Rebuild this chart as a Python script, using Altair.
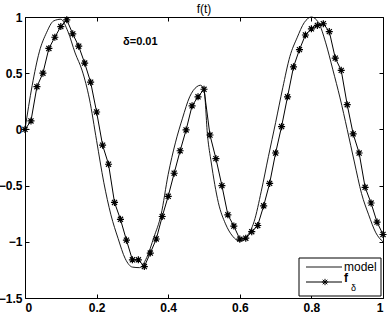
import altair as alt
import pandas as pd

# ---- data ----
model_t = [0.00, 0.02, 0.04, 0.06, 0.08, 0.10, 0.12, 0.14, 0.16, 0.18,
           0.20, 0.22, 0.24, 0.26, 0.28, 0.30, 0.32, 0.34, 0.36, 0.38,
           0.40, 0.42, 0.44, 0.46, 0.48, 0.49, 0.50, 0.51, 0.52, 0.54,
           0.56, 0.58, 0.60, 0.62, 0.64, 0.66, 0.68, 0.70, 0.72, 0.74,
           0.76, 0.78, 0.80, 0.82, 0.84, 0.86, 0.88, 0.90, 0.92, 0.94,
           0.96, 0.98, 1.00]
model_y = [0.00, 0.39, 0.69, 0.86, 0.965, 0.98, 0.87, 0.68, 0.52, 0.27,
           -0.10, -0.47, -0.76, -0.97, -1.15, -1.225, -1.23, -1.14, -0.96, -0.76,
           -0.40, -0.12, 0.10, 0.29, 0.38, 0.393, 0.355, -0.06, -0.29, -0.65,
           -0.84, -0.95, -0.995, -0.95, -0.82, -0.55, -0.24, 0.06, 0.37, 0.65,
           0.815, 0.95, 1.00, 0.95, 0.77, 0.53, 0.28, 0.00, -0.29, -0.57,
           -0.76, -0.92, -1.00]

fd_t = [i / 60 for i in range(61)]
fd_y = [0.00, 0.075, 0.38, 0.50, 0.72, 0.82, 0.915, 0.975, 0.85, 0.74,
        0.59, 0.42, 0.155, -0.14, -0.31, -0.65, -0.80, -0.985, -1.16, -1.16,
        -1.22, -1.10, -0.975, -0.775, -0.595, -0.39, -0.19, -0.005, 0.21, 0.29,
        0.357, -0.05, -0.26, -0.50, -0.76, -0.86, -0.976, -0.968, -0.91, -0.855,
        -0.68, -0.48, -0.21, 0.025, 0.29, 0.556, 0.71, 0.84, 0.895, 0.925,
        0.94, 0.87, 0.634, 0.525, 0.22, -0.04, -0.21, -0.515, -0.655, -0.825,
        -0.935]

x_ticks = [0, 0.2, 0.4, 0.6, 0.8, 1]
y_ticks = [-1.5, -1, -0.5, 0, 0.5, 1]
series_names = ["model", "f"]
annot_text = ["δ=0.01"]
annot_x = [0.274]
annot_y = [0.777]

model_df = pd.DataFrame({"t": model_t, "y": model_y})
fd_df = pd.DataFrame({"t": fd_t, "y": fd_y})
annot_df = pd.DataFrame({"t": annot_x, "y": annot_y, "label": annot_text})

FONT = "Liberation Sans"
STAR = "M-1,0L1,0M0,-1L0,1M-0.72,-0.72L0.72,0.72M-0.72,0.72L0.72,-0.72"

xs = alt.Scale(domain=[0, 1], nice=False, zero=False)
ys = alt.Scale(domain=[-1.5, 1], nice=False, zero=False)


def ax(orient, ticks, labels=True, pad=4, size=13):
    return alt.Axis(orient=orient, values=ticks, domain=False, grid=False, title=None,
                    tickSize=4, offset=-4, tickColor="black", tickWidth=1,
                    labels=labels, format=".1~f", labelPadding=pad,
                    labelFont=FONT, labelFontSize=size, labelFontWeight="bold",
                    labelColor="black")


model_layer = alt.Chart(model_df).mark_line(
    color="black", strokeWidth=0.9, interpolate="monotone"
).encode(
    x=alt.X("t:Q", scale=xs, axis=ax("bottom", x_ticks, True, 4, 12)),
    y=alt.Y("y:Q", scale=ys, axis=ax("left", y_ticks, True, 3, 12)),
)

fd_line = alt.Chart(fd_df).mark_line(color="black", strokeWidth=1).encode(
    x=alt.X("t:Q", scale=xs, axis=ax("top", x_ticks, False)),
    y=alt.Y("y:Q", scale=ys, axis=ax("right", y_ticks, False)),
)

fd_pts = alt.Chart(fd_df).mark_point(
    shape=STAR, size=50, filled=False, color="black", strokeWidth=1.2, opacity=1
).encode(
    x=alt.X("t:Q", scale=xs, axis=None),
    y=alt.Y("y:Q", scale=ys, axis=None),
)

annot = alt.Chart(annot_df).mark_text(
    align="left", baseline="middle", font=FONT, fontSize=11, fontWeight="bold", color="black"
).encode(
    x=alt.X("t:Q", scale=xs, axis=None),
    y=alt.Y("y:Q", scale=ys, axis=None),
    text="label:N",
)

# ---- legend (drawn by hand, MATLAB style) ----
leg_df = pd.DataFrame({"name": series_names})
leg_box = alt.Chart(leg_df.head(1)).mark_rect(
    fill="white", stroke="black", strokeWidth=1
).encode(x=alt.value(274), x2=alt.value(356), y=alt.value(241), y2=alt.value(279))
leg_line1 = alt.Chart(leg_df.head(1)).mark_rule(color="black", strokeWidth=0.9).encode(
    x=alt.value(281), x2=alt.value(317), y=alt.value(250))
leg_line2 = alt.Chart(leg_df.head(1)).mark_rule(color="black", strokeWidth=1).encode(
    x=alt.value(281), x2=alt.value(317), y=alt.value(265))
leg_star = alt.Chart(leg_df.head(1)).mark_point(
    shape=STAR, size=40, filled=False, color="black", strokeWidth=1, opacity=1
).encode(x=alt.value(300), y=alt.value(265))
leg_txt1 = alt.Chart(leg_df.head(1)).mark_text(
    align="left", baseline="middle", font=FONT, fontSize=12, color="black"
).encode(x=alt.value(319), y=alt.value(250), text="name:N")
leg_txt2 = alt.Chart(leg_df.tail(1)).mark_text(
    align="left", baseline="middle", font=FONT, fontSize=12, fontWeight="bold", color="black"
).encode(x=alt.value(319), y=alt.value(261), text="name:N")
leg_sub = alt.Chart(leg_df.tail(1)).mark_text(
    align="left", baseline="middle", font=FONT, fontSize=9, color="black"
).encode(x=alt.value(326), y=alt.value(271), text=alt.value("δ"))

chart = alt.layer(
    model_layer, fd_line, fd_pts, annot,
    leg_box, leg_line1, leg_line2, leg_star, leg_txt1, leg_txt2, leg_sub,
).resolve_axis(
    x="independent", y="independent"
).properties(
    width=358, height=281,
    padding={"left": 25, "top": 17, "right": 4, "bottom": 15},
    autosize=alt.AutoSizeParams(type="none"),
    title=alt.TitleParams("f(t)", font=FONT, fontSize=12, fontWeight="normal",
                          color="black", anchor="middle", frame="group", offset=-5),
    background="white",
).configure_view(stroke="black", strokeWidth=1)

chart.save("out.html", embed_options={"renderer": "svg", "actions": False})
